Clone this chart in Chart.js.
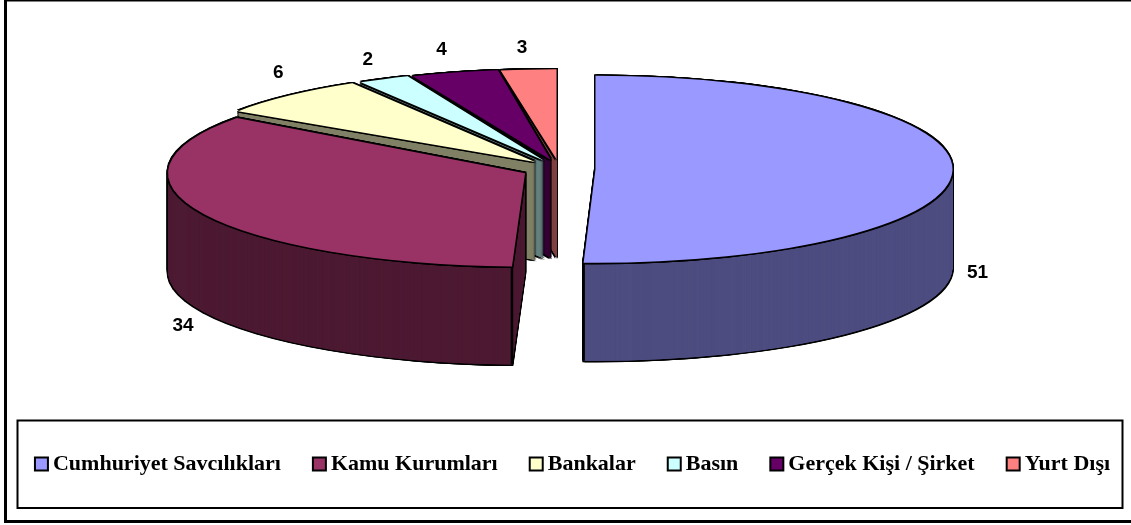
<!DOCTYPE html>
<html><head><meta charset="utf-8">
<style>html,body{margin:0;padding:0;background:#fff}#w{width:1131px;height:525px;position:relative}</style>
<script src="https://cdn.jsdelivr.net/npm/chart.js@4"></script>
</head><body><div id="w"><canvas id="c"></canvas></div>
<script>
const categories = ['Cumhuriyet Savcılıkları','Kamu Kurumları','Bankalar','Basın','Gerçek Kişi / Şirket','Yurt Dışı'];
const values = [51,34,6,2,4,3];
const topColors = ['#9999FF','#993366','#FFFFCC','#CCFFFF','#660066','#FF8080'];
const sideColors = ['#4D4D80','#4D1A33','#808066','#668080','#330033','#804040'];
const labelOffsets = [[382,103],[-342,153],[-257,-89],[-176,-101],[-109,-110],[-34.5,-112]];
// small perspective corrections: rim corners of each slice (degrees), flattening and apex shift
const rimShift = [[0,-1.7],[-1.5,0.2],[-2.3,1.6],[1.6,2.8],[2.5,2.3],[1.8,0]];
const flatness = [93.5,93.5,91.5,91,90.5,90];
const apexShift = [0,0,2,3,3.5,1.5];

const CX=558.5, CY=169, RX=357, RY=93.5, DEPTH=98, EXPLODE=37, RAD=Math.PI/180;
const LEGEND_SPAN=1144, LEGEND_TOP=422;

function arcStyle(color){
  return {backgroundColor:color,borderColor:color,borderWidth:0,borderAlign:'center',borderJoinStyle:'round',
    borderDash:[],borderDashOffset:0,offset:0,spacing:0,circular:true,borderRadius:0};
}
function centre(arc,i){
  const mid=(arc.startAngle+arc.endAngle)/2;
  return {x:CX+Math.cos(mid)*EXPLODE+apexShift[i], y:CY+Math.sin(mid)*EXPLODE*RY/RX};
}
function paint(ctx,arc,i,color,dx,dy){
  const c=centre(arc,i), R=arc.outerRadius, s=arc.startAngle, e=arc.endAngle, cf=arc.circumference;
  ctx.save();
  ctx.translate(c.x+dx,c.y+dy);
  ctx.scale(RX/R,flatness[i]/R);
  ctx.translate(-arc.x,-arc.y);
  const old=arc.options;
  arc.options=arcStyle(color);
  arc.startAngle=s+rimShift[i][0]*RAD; arc.endAngle=e+rimShift[i][1]*RAD; arc.circumference=arc.endAngle-arc.startAngle;
  arc.draw(ctx);
  arc.startAngle=s; arc.endAngle=e; arc.circumference=cf;
  arc.options=old;
  ctx.restore();
}
const W=1.4;
const halo=[[-W,-W],[W,-W],[-W,W],[W,W],[-W,0],[W,0],[0,-W],[0,W]];
const pie3d={
  id:'pie3d',
  afterLayout(chart){
    const L=chart.legend;
    L.maxWidth=LEGEND_SPAN; L.fit();
    L.left=0; L.right=LEGEND_SPAN; L.top=LEGEND_TOP; L.bottom=LEGEND_TOP+L.height;
  },
  beforeDraw(chart){
    const ctx=chart.ctx;
    ctx.save();
    ctx.fillStyle='#fff';ctx.fillRect(0,0,chart.width,chart.height);
    ctx.strokeStyle='#000';
    ctx.lineWidth=3;
    ctx.strokeRect(5.5,0,1140,521.5);
    ctx.lineWidth=2;
    ctx.strokeRect(17.5,420.5,1105,87.5);
    ctx.restore();
  },
  beforeDatasetsDraw(chart){
    const ctx=chart.ctx, arcs=chart.getDatasetMeta(0).data;
    for(let i=arcs.length-1;i>=0;i--){
      const arc=arcs[i];
      for(let d=DEPTH;d>=0;d-=2) for(const h of halo) paint(ctx,arc,i,'#000',h[0],d+h[1]);
      for(let pass=0;pass<2;pass++) for(let d=DEPTH;d>0;d-=0.5) paint(ctx,arc,i,sideColors[i],0,d);
      const c=centre(arc,i);
      [arc.startAngle+rimShift[i][0]*RAD,arc.endAngle+rimShift[i][1]*RAD].forEach(a=>{
        if(Math.sin(a)>0.5){
          const x=c.x+Math.cos(a)*RX, y=c.y+Math.sin(a)*flatness[i];
          ctx.save();ctx.strokeStyle='#000';ctx.lineWidth=2.5;
          ctx.beginPath();ctx.moveTo(x,y);ctx.lineTo(x,y+DEPTH);ctx.stroke();ctx.restore();
        }
      });
      for(const h of halo) paint(ctx,arc,i,'#000',h[0],h[1]);
      paint(ctx,arc,i,topColors[i],0,0);
    }
    ctx.save();
    ctx.fillStyle='#000';
    ctx.font='bold 19px "Liberation Sans"';
    ctx.textAlign='center';ctx.textBaseline='middle';
    values.forEach((v,i)=>{
      const c=centre(arcs[i],i);
      ctx.fillText(String(v),c.x+labelOffsets[i][0],c.y+labelOffsets[i][1]);
    });
    ctx.restore();
    return false;
  },
  afterDraw(chart){
    const ctx=chart.ctx;
    ctx.save();
    chart.legend.legendHitBoxes.forEach((b,i)=>{
      const top=b.top+b.height/2-6.5;
      ctx.fillStyle=topColors[i];ctx.strokeStyle='#000';ctx.lineWidth=2;
      ctx.fillRect(b.left+1,top,13,13);ctx.strokeRect(b.left+1,top,13,13);
    });
    ctx.restore();
  }
};
new Chart(document.getElementById('c'),{
  type:'pie',
  data:{labels:categories,datasets:[{data:values,backgroundColor:topColors,borderColor:'#000',borderWidth:2}]},
  options:{
    responsive:true,maintainAspectRatio:false,animation:false,
    plugins:{tooltip:{enabled:false},title:{display:false},
      legend:{display:true,position:'bottom',
        labels:{color:'#000',boxWidth:8,boxHeight:13,padding:31,
          font:{family:'"Liberation Serif"',weight:'bold',size:22},
          generateLabels:(c)=>categories.map((t,i)=>({text:t,index:i,fillStyle:'rgba(0,0,0,0)',strokeStyle:'rgba(0,0,0,0)',lineWidth:0,fontColor:'#000'}))
        }}}
  },
  plugins:[pie3d]
});
</script></body></html>
